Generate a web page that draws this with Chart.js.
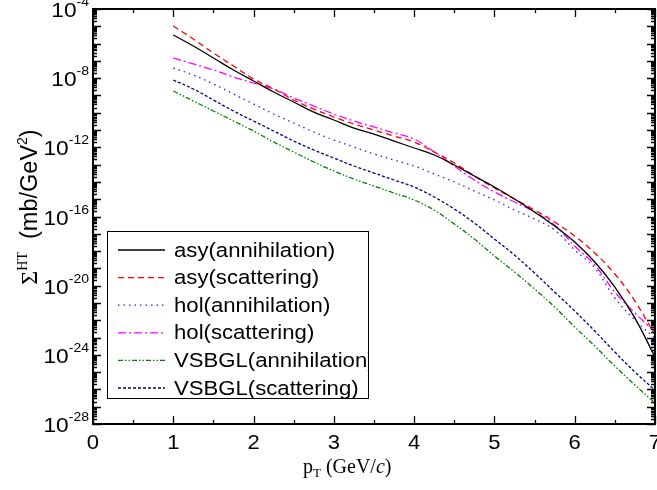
<!DOCTYPE html>
<html lang="en">
<head>
  <meta charset="UTF-8">
  <title>Sigma HT vs pT</title>
  <script src="https://cdn.jsdelivr.net/npm/chart.js"></script>
  <style>
    body { margin: 0; background: #fff; }
  </style>
</head>
<body>
  <canvas id="htChart" width="657" height="490"></canvas>

  <script>
    // pT values (GeV/c)
    const pT = [1, 1.25, 1.5, 1.75, 2, 2.25, 2.5, 2.75, 3, 3.25, 3.5, 3.75, 4,
                4.25, 4.5, 4.75, 5, 5.25, 5.5, 5.75, 6, 6.25, 6.5, 6.75, 7];

    // Sigma^HT (mb/GeV^2)
    const asyAnnihilation = [3.13e-6, 7.24e-7, 1.47e-7, 2.96e-8, 6.85e-9, 1.58e-9, 4.18e-10, 1.10e-10, 3.80e-11,
      1.31e-11, 5.89e-12, 2.32e-12, 9.14e-13, 3.60e-13, 9.49e-14, 2.19e-14, 5.07e-15, 1.03e-15, 1.82e-16,
      2.81e-17, 3.34e-18, 2.33e-19, 8.34e-21, 1.34e-22, 7.46e-25];
    const asyScattering = [1.04e-5, 1.84e-6, 2.85e-7, 5.05e-8, 8.93e-9, 2.36e-9, 5.46e-10, 1.64e-10, 5.67e-11,
      2.23e-11, 1.00e-11, 4.52e-12, 2.03e-12, 5.36e-13, 1.24e-13, 2.19e-14, 4.44e-15, 1.03e-15, 2.37e-16,
      4.80e-17, 7.43e-18, 7.73e-19, 4.71e-20, 1.29e-21, 1.40e-23];
    const holAnnihilation = [3.87e-8, 1.52e-8, 4.59e-9, 1.21e-9, 3.20e-10, 8.45e-11, 2.55e-11, 7.69e-12, 2.65e-12,
      1.04e-12, 4.11e-13, 1.85e-13, 8.31e-14, 2.86e-14, 9.87e-15, 2.98e-15, 8.97e-16, 2.37e-16, 7.15e-17,
      1.65e-17, 1.15e-18, 1.05e-19, 1.93e-21, 1.03e-22, 9.37e-24];
    const holScattering = [1.47e-7, 6.64e-8, 3.00e-8, 1.17e-8, 5.25e-9, 2.36e-9, 7.12e-10, 2.45e-10, 8.45e-11,
      3.33e-11, 1.50e-11, 6.73e-12, 3.03e-12, 5.36e-13, 8.31e-14, 1.29e-14, 2.61e-15, 6.87e-16, 1.82e-16,
      3.21e-17, 1.96e-18, 1.56e-19, 4.29e-21, 2.62e-22, 2.08e-23];
    const vsbglAnnihilation = [1.81e-9, 4.78e-10, 1.26e-10, 3.33e-11, 8.79e-12, 2.03e-12, 5.36e-13, 1.42e-13, 4.27e-14,
      1.47e-14, 5.79e-15, 2.28e-15, 8.97e-16, 2.37e-16, 3.67e-17, 4.98e-18, 5.18e-19, 6.15e-20, 6.39e-21,
      5.82e-22, 4.06e-23, 3.23e-24, 2.25e-25, 1.79e-26, 1.63e-27];
    const vsbglScattering = [7.83e-9, 2.36e-9, 5.46e-10, 1.26e-10, 3.33e-11, 8.79e-12, 2.32e-12, 7.00e-13, 2.41e-13,
      8.31e-14, 3.27e-14, 1.29e-14, 5.07e-15, 1.34e-15, 2.71e-16, 4.20e-17, 4.98e-18, 5.92e-19, 5.38e-20,
      4.29e-21, 3.41e-22, 2.38e-23, 1.45e-24, 1.01e-25, 9.21e-27];

    const xTicks = [0, 1, 2, 3, 4, 5, 6, 7];
    const yTickExponents = [-4, -8, -12, -16, -20, -24, -28];

    const SANS = '"Liberation Sans", Arial, sans-serif';
    const SERIF = '"Liberation Serif", "Times New Roman", serif';

    function series(label, values, color, dash) {
      return {
        label: label,
        data: values.map((v, i) => ({ x: pT[i], y: v })),
        borderColor: color,
        borderWidth: 1.3,
        borderDash: dash,
        pointRadius: 0,
        fill: false,
        tension: 0.4
      };
    }

    // text drawn slightly wider than the font, like the original figure
    function wideText(ctx, text, x, y, sx) {
      ctx.save();
      ctx.translate(x, y);
      ctx.scale(sx, 1);
      ctx.fillText(text, 0, 0);
      ctx.restore();
    }

    // draws frame, inward ticks, tick labels, axis titles and the legend box
    const decorations = {
      id: 'decorations',
      afterDraw(chart) {
        const ctx = chart.ctx;
        const a = chart.chartArea;
        const xs = chart.scales.x;
        const ys = chart.scales.y;
        ctx.save();
        ctx.strokeStyle = '#000';
        ctx.fillStyle = '#000';

        // ticks
        ctx.lineWidth = 1.3;
        ctx.beginPath();
        for (let v = 0; v <= 7.001; v += 0.5) {
          const px = Math.round(xs.getPixelForValue(v)) + 0.5;
          const len = Number.isInteger(v) ? 8 : 4;
          ctx.moveTo(px, a.bottom); ctx.lineTo(px, a.bottom - len);
          ctx.moveTo(px, a.top); ctx.lineTo(px, a.top + len);
        }
        for (let e = -28; e <= -4; e++) {
          for (let m = 1; m <= 9; m++) {
            if (e === -4 && m > 1) break;
            const py = Math.round(ys.getPixelForValue(m * Math.pow(10, e))) + 0.5;
            const len = m === 1 ? 8 : 4;
            ctx.moveTo(a.left, py); ctx.lineTo(a.left + len, py);
            ctx.moveTo(a.right, py); ctx.lineTo(a.right - len, py);
          }
        }
        ctx.stroke();

        // frame
        ctx.lineWidth = 2;
        ctx.strokeRect(a.left, a.top, a.right - a.left, a.bottom - a.top);

        // x tick labels
        ctx.font = '21px ' + SANS;
        ctx.textAlign = 'center';
        ctx.textBaseline = 'alphabetic';
        xTicks.forEach(v => {
          wideText(ctx, String(v), xs.getPixelForValue(v), a.bottom + 25, 1.05);
        });

        // y tick labels 10^n
        ctx.textAlign = 'left';
        const sx = 1.08;
        yTickExponents.forEach(e => {
          const py = ys.getPixelForValue(Math.pow(10, e));
          ctx.font = '13px ' + SANS;
          const expW = ctx.measureText(String(e)).width * sx;
          ctx.font = '21px ' + SANS;
          const baseW = ctx.measureText('10').width * sx;
          const x0 = a.left - 4 - expW - baseW;
          wideText(ctx, '10', x0, py + 8, sx);
          ctx.font = '13px ' + SANS;
          wideText(ctx, String(e), x0 + baseW, py - 3, sx);
        });

        // x title: p_T (GeV/c)
        let x = 303, yb = 473;
        ctx.font = '20px ' + SERIF;
        ctx.fillText('p', x, yb); x += ctx.measureText('p').width;
        ctx.font = '13px ' + SERIF;
        ctx.fillText('T', x, yb + 4); x += ctx.measureText('T').width;
        ctx.font = '20px ' + SERIF;
        ctx.fillText(' (GeV/', x, yb); x += ctx.measureText(' (GeV/').width;
        ctx.font = 'italic 20px ' + SERIF;
        ctx.fillText('c', x, yb); x += ctx.measureText('c').width;
        ctx.font = '20px ' + SERIF;
        ctx.fillText(')', x, yb);

        // y title: Sigma^HT (mb/GeV^2), rotated
        const parts = [
          { t: '\u03A3', f: '24px ' + SERIF, dy: 0 },
          { t: 'HT', f: '14px ' + SERIF, dy: -10 },
          { t: '  (mb/GeV', f: '23.5px ' + SANS, dy: 0 },
          { t: '2', f: '14px ' + SANS, dy: -10 },
          { t: ')', f: '23.5px ' + SANS, dy: 0 }
        ];
        let total = 0;
        parts.forEach(p => { ctx.font = p.f; p.w = ctx.measureText(p.t).width; total += p.w; });
        ctx.translate(37, 207);
        ctx.rotate(-Math.PI / 2);
        let tx = -total / 2;
        parts.forEach(p => { ctx.font = p.f; ctx.fillText(p.t, tx, p.dy); tx += p.w; });
        ctx.setTransform(1, 0, 0, 1, 0, 0);

        // legend
        const lx = 107, ly = 231, lw = 261, lh = 167;
        ctx.fillStyle = '#fff';
        ctx.fillRect(lx, ly, lw, lh);
        ctx.save();
        ctx.beginPath();
        ctx.rect(lx, ly, lw, lh);
        ctx.clip();
        ctx.font = '20.5px ' + SANS;
        ctx.textBaseline = 'middle';
        chart.data.datasets.forEach((ds, i) => {
          const ry = 250 + i * 27.6;
          ctx.save();
          ctx.strokeStyle = ds.borderColor;
          ctx.lineWidth = ds.borderWidth;
          ctx.setLineDash(ds.borderDash || []);
          ctx.beginPath();
          ctx.moveTo(118, ry); ctx.lineTo(165, ry);
          ctx.stroke();
          ctx.restore();
          ctx.fillStyle = '#000';
          wideText(ctx, ds.label, 174, ry + 1, 1.08);
        });
        ctx.restore();
        ctx.lineWidth = 1;
        ctx.strokeStyle = '#000';
        ctx.strokeRect(lx + 0.5, ly + 0.5, lw, lh);
        ctx.restore();
      }
    };

    const ctx = document.getElementById('htChart').getContext('2d');
    new Chart(ctx, {
      type: 'line',
      data: {
        datasets: [
          series('asy(annihilation)', asyAnnihilation, '#000000', []),
          series('asy(scattering)', asyScattering, '#ff0000', [6, 4]),
          series('hol(annihilation)', holAnnihilation, '#2020ff', [1.5, 4]),
          series('hol(scattering)', holScattering, '#ff00ff', [8, 3, 2, 3]),
          series('VSBGL(annihilation)', vsbglAnnihilation, '#008000', [5, 2, 1.5, 2, 1.5, 2]),
          series('VSBGL(scattering)', vsbglScattering, '#000080', [3, 2])
        ]
      },
      options: {
        responsive: false,
        animation: false,
        layout: { padding: { left: 93, right: 2, top: 9, bottom: 66 } },
        plugins: { legend: { display: false }, tooltip: { enabled: false } },
        scales: {
          x: { type: 'linear', min: 0, max: 7, display: false },
          y: { type: 'logarithmic', min: 1e-28, max: 1e-4, display: false }
        }
      },
      plugins: [decorations]
    });
  </script>
</body>
</html>
